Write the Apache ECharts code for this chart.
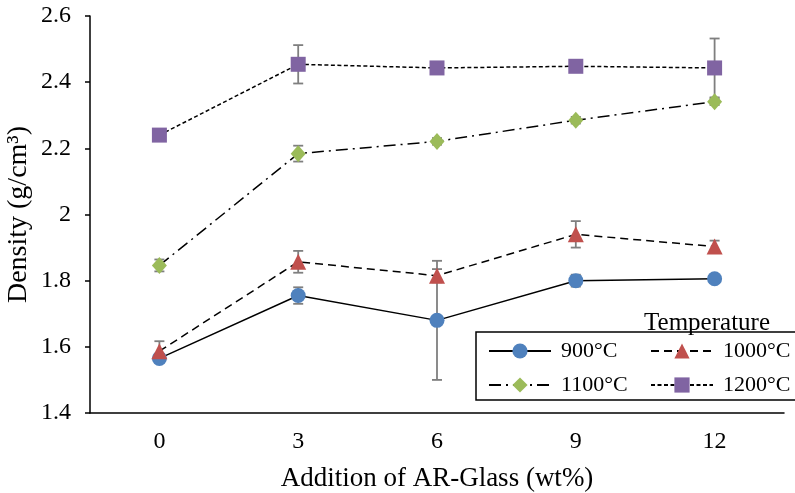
<!DOCTYPE html>
<html>
<head>
<meta charset="utf-8">
<script src="https://cdn.jsdelivr.net/npm/echarts@6/dist/echarts.min.js"></script>
<style>html,body{margin:0;padding:0;background:#fff}#c{width:795px;height:493px}</style>
</head>
<body>
<div id="c"></div>
<script>
var categories = ['0', '3', '6', '9', '12'];
var seriesNames = ['900°C', '1000°C', '1100°C', '1200°C'];
var d900 = [1.565, 1.755, 1.680, 1.800, 1.806];
var d1000 = [1.587, 1.857, 1.815, 1.940, 1.903];
var d1100 = [1.846, 2.184, 2.221, 2.285, 2.341];
var d1200 = [2.240, 2.454, 2.443, 2.448, 2.443];
var e900 = [0.010, 0.025, 0.180, 0.018, 0.008];
var e1000 = [0.030, 0.033, 0.020, 0.040, 0.018];
var e1100 = [0.018, 0.024, 0.010, 0.010, 0.010];
var e1200 = [0.008, 0.058, 0.008, 0.008, 0.089];
var yTicks = {min: 1.4, max: 2.6, interval: 0.2};

var FONT = '"Liberation Serif", "Times New Roman", serif';
var colors = ['#4F81BD', '#C0504D', '#9BBB59', '#8064A2'];
var symbols = ['circle', 'triangle', 'diamond', 'rect'];
var symSizes = [15, 16, [15, 17], 15];
var dashes = ['solid', [8, 5], [12, 5, 2, 5], [4, 2.5]];
var values = [d900, d1000, d1100, d1200];
var errors = [e900, e1000, e1100, e1200];

var series = [];
values.forEach(function (vals, k) {
  var errData = vals.map(function (v, i) { return [i, v - errors[k][i], v + errors[k][i]]; });
  series.push({
    type: 'custom',
    name: seriesNames[k] + ' err',
    z: 1,
    silent: true,
    data: errData,
    renderItem: function (params, api) {
      var lo = api.coord([api.value(0), api.value(1)]);
      var hi = api.coord([api.value(0), api.value(2)]);
      var w = 5;
      var st = {stroke: '#7F7F7F', lineWidth: 1.8};
      return {
        type: 'group',
        children: [
          {type: 'line', shape: {x1: lo[0], y1: lo[1], x2: hi[0], y2: hi[1]}, style: st},
          {type: 'line', shape: {x1: lo[0] - w, y1: lo[1], x2: lo[0] + w, y2: lo[1]}, style: st},
          {type: 'line', shape: {x1: hi[0] - w, y1: hi[1], x2: hi[0] + w, y2: hi[1]}, style: st}
        ]
      };
    }
  });
});
values.forEach(function (vals, k) {
  series.push({
    type: 'line',
    name: seriesNames[k],
    data: vals,
    z: 3,
    symbol: symbols[k],
    symbolSize: symSizes[k],
    showAllSymbol: true,
    itemStyle: {color: colors[k], borderColor: colors[k], borderWidth: 0, opacity: 1},
    lineStyle: {color: '#000', width: 1.5, type: dashes[k]},
    emphasis: {disabled: true},
    animation: false
  });
});

var chart = echarts.init(document.getElementById('c'), null, {renderer: 'canvas'});
chart.setOption({
  animation: false,
  backgroundColor: '#fff',
  title: {
    text: 'Temperature',
    right: 20,
    top: 306,
    textStyle: {fontFamily: FONT, fontSize: 25, fontWeight: 'normal', color: '#000'}
  },
  legend: {
    data: seriesNames,
    left: 476,
    top: 332,
    orient: 'horizontal',
    width: 330,
    itemWidth: 62,
    itemHeight: 19,
    itemGap: 12,
    padding: [8, 10, 4, 12],
    borderColor: '#000',
    borderWidth: 1.5,
    textStyle: {fontFamily: FONT, fontSize: 22, color: '#000', width: 77, lineHeight: 22, padding: [0, 0, 0, 5]}
  },
  grid: {left: 90, right: 11, top: 16, bottom: 80, containLabel: false, outerBoundsMode: 'none'},
  xAxis: {
    type: 'category',
    data: categories,
    boundaryGap: true,
    name: 'Addition of AR-Glass (wt%)',
    nameLocation: 'middle',
    nameGap: 52,
    nameMoveOverlap: false,
    nameTextStyle: {fontFamily: FONT, fontSize: 27, color: '#000'},
    axisLine: {lineStyle: {color: '#000', width: 1.5}},
    axisTick: {alignWithLabel: true, length: 5, lineStyle: {color: '#000', width: 1.5}},
    axisLabel: {fontFamily: FONT, fontSize: 24, color: '#000', margin: 17},
    splitLine: {show: false}
  },
  yAxis: {
    type: 'value',
    min: yTicks.min,
    max: yTicks.max,
    interval: yTicks.interval,
    name: 'Density (g/cm³)',
    nameLocation: 'middle',
    nameGap: 57,
    nameMoveOverlap: false,
    nameTextStyle: {fontFamily: FONT, fontSize: 28, color: '#000'},
    axisLine: {show: true, lineStyle: {color: '#000', width: 1.5}},
    axisTick: {show: true, length: 5, lineStyle: {color: '#000', width: 1.5}},
    axisLabel: {fontFamily: FONT, fontSize: 24, color: '#000', margin: 19,
      formatter: function (v) { return String(Math.round(v * 10) / 10); }},
    splitLine: {show: false}
  },
  series: series
});
</script>
</body>
</html>
